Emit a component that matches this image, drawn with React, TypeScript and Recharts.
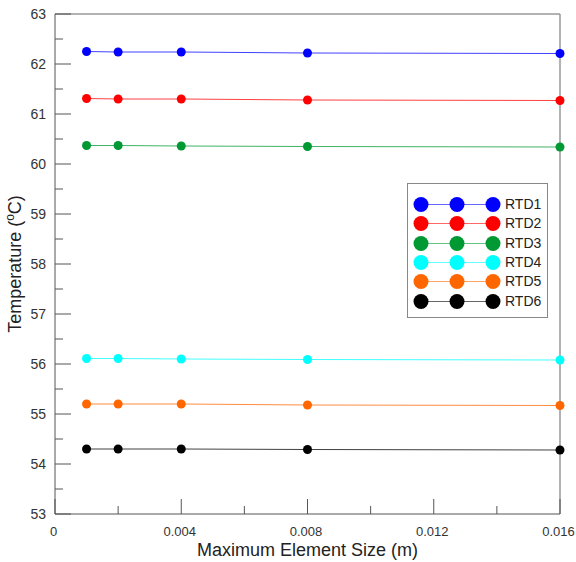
import { Label, Line, LineChart, ReferenceLine, XAxis, YAxis } from "recharts";

const X_VALUES = [0.001, 0.002, 0.004, 0.008, 0.016];

const RTD1 = [62.25, 62.24, 62.24, 62.22, 62.21];
const RTD2 = [61.31, 61.3, 61.3, 61.28, 61.27];
const RTD3 = [60.37, 60.37, 60.36, 60.35, 60.34];
const RTD4 = [56.11, 56.11, 56.1, 56.09, 56.08];
const RTD5 = [55.2, 55.2, 55.2, 55.18, 55.17];
const RTD6 = [54.3, 54.3, 54.3, 54.29, 54.28];

const X_TICKS = [0, 0.002, 0.004, 0.006, 0.008, 0.01, 0.012, 0.014, 0.016];
const X_TICK_LABELS = ["0", "", "0.004", "", "0.008", "", "0.012", "", "0.016"];
const Y_TICKS = [53, 53.5, 54, 54.5, 55, 55.5, 56, 56.5, 57, 57.5, 58, 58.5, 59, 59.5, 60, 60.5, 61, 61.5, 62, 62.5, 63];

const SERIES = [
  { key: "rtd1", name: "RTD1", values: RTD1, color: "#0000ff" },
  { key: "rtd2", name: "RTD2", values: RTD2, color: "#ff0000" },
  { key: "rtd3", name: "RTD3", values: RTD3, color: "#009933" },
  { key: "rtd4", name: "RTD4", values: RTD4, color: "#00ffff" },
  { key: "rtd5", name: "RTD5", values: RTD5, color: "#ff6600" },
  { key: "rtd6", name: "RTD6", values: RTD6, color: "#000000" },
];

const data = X_VALUES.map((x, i) => {
  const row: Record<string, number> = { x };
  for (const s of SERIES) row[s.key] = s.values[i];
  return row;
});

const FONT = "Arial, 'Liberation Sans', sans-serif";
const AXIS_COLOR = "#555";

function XTick(props: any) {
  const { x, y, index } = props;
  const major = index % 2 === 0;
  return (
    <g>
      <line x1={x} y1={y} x2={x} y2={y - (major ? 15 : 8)} stroke={AXIS_COLOR} />
      {major && (
        <text x={x - 1.5} y={y + 22} textAnchor="middle" fontSize={13} fill="#333" fontFamily={FONT}>
          {X_TICK_LABELS[index]}
        </text>
      )}
    </g>
  );
}

function YTick(props: any) {
  const { x, y, payload } = props;
  const major = Number.isInteger(payload.value);
  return (
    <g>
      <line x1={x} y1={y} x2={x + (major ? 16 : 8)} y2={y} stroke={AXIS_COLOR} />
      {major && (
        <text x={x - 9} y={y + 5} textAnchor="end" fontSize={14} fill="#333" fontFamily={FONT}>
          {payload.value}
        </text>
      )}
    </g>
  );
}

function YTitle(props: any) {
  const vb = props.viewBox;
  const cx = vb.x + 21;
  const cy = vb.y + vb.height / 2;
  return (
    <text
      x={cx}
      y={cy}
      transform={`rotate(-90, ${cx}, ${cy})`}
      textAnchor="middle"
      fontSize={18}
      fill="#222"
      fontFamily={FONT}
    >
      Temperature (<tspan fontSize={12} dy={-7}>o</tspan>
      <tspan dy={7}>C)</tspan>
    </text>
  );
}

function LegendBox() {
  return (
    <div
      style={{
        position: "absolute",
        left: 407,
        top: 183,
        width: 141,
        height: 135,
        border: "1px solid #888",
        background: "#fff",
        paddingTop: 11,
        boxSizing: "border-box",
        fontFamily: FONT,
      }}
    >
      {SERIES.map((s) => (
        <div key={s.key} style={{ display: "flex", alignItems: "center", height: 19.3 }}>
          <svg width={97} height={19} style={{ display: "block" }}>
            <line x1={13} y1={9.5} x2={85} y2={9.5} stroke={s.color} strokeOpacity={0.6} />
            <circle cx={13} cy={9.5} r={7.5} fill={s.color} />
            <circle cx={49} cy={9.5} r={7.5} fill={s.color} />
            <circle cx={85} cy={9.5} r={7.5} fill={s.color} />
          </svg>
          <span style={{ fontSize: 14, color: "#222", lineHeight: "19px" }}>{s.name}</span>
        </div>
      ))}
    </div>
  );
}

export default function App() {
  return (
    <div style={{ position: "absolute", left: 0, top: 0, width: 576, height: 562, background: "#fff" }}>
      <LineChart width={576} height={562} data={data} margin={{ top: 14, right: 16, bottom: 0, left: 0 }}>
        <XAxis
          dataKey="x"
          type="number"
          domain={[0, 0.016]}
          ticks={X_TICKS}
          interval={0}
          height={48}
          tickSize={0}
          tickMargin={0}
          tickLine={false}
          stroke={AXIS_COLOR}
          tick={<XTick />}
        >
          <Label
            value="Maximum Element Size (m)"
            position="insideBottom"
            offset={6}
            fontSize={18}
            fill="#222"
            fontFamily={FONT}
          />
        </XAxis>
        <YAxis
          type="number"
          domain={[53, 63]}
          ticks={Y_TICKS}
          interval={0}
          width={55}
          tickSize={0}
          tickMargin={0}
          tickLine={false}
          stroke={AXIS_COLOR}
          tick={<YTick />}
        >
          <Label content={<YTitle />} />
        </YAxis>
        <ReferenceLine y={63} stroke="#666" ifOverflow="visible" />
        <ReferenceLine x={0.016} stroke="#999" strokeWidth={1.5} ifOverflow="visible" />
        {SERIES.map((s) => (
          <Line
            key={s.key}
            dataKey={s.key}
            name={s.name}
            type="linear"
            stroke={s.color}
            strokeWidth={1}
            strokeOpacity={0.75}
            dot={{ r: 4.5, fill: s.color, stroke: "none", fillOpacity: 1 }}
            activeDot={false}
            isAnimationActive={false}
          />
        ))}
      </LineChart>
      <LegendBox />
    </div>
  );
}
